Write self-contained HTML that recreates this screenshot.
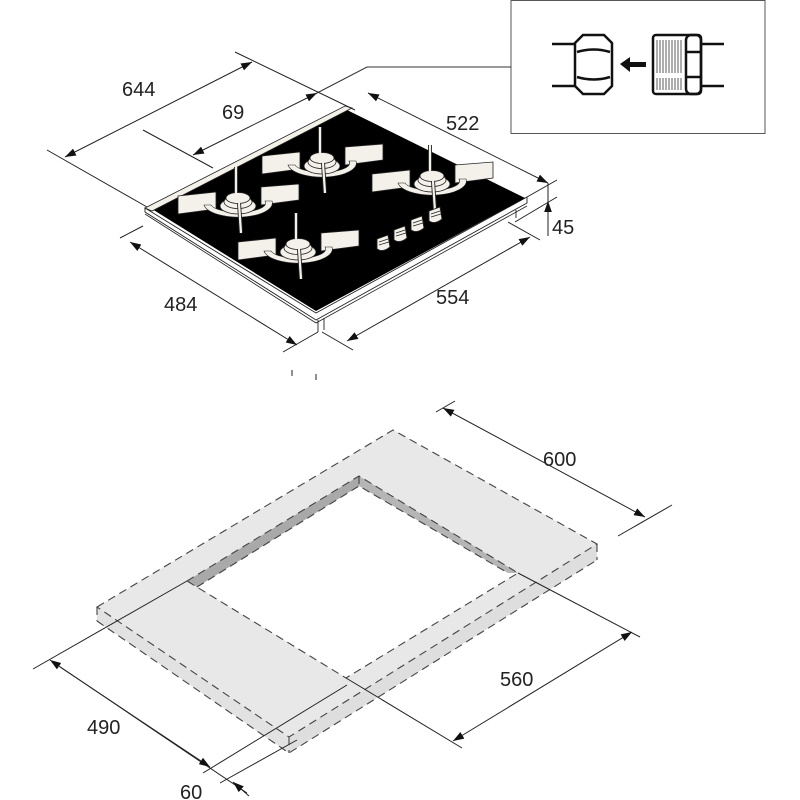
<!DOCTYPE html>
<html><head><meta charset="utf-8"><style>
html,body{margin:0;padding:0;background:#fff;}
svg{display:block;}
text{font-family:"Liberation Sans",sans-serif;font-size:20px;fill:#222;}
</style></head><body>
<svg width="800" height="800" viewBox="0 0 800 800" xmlns="http://www.w3.org/2000/svg">
<defs>
<marker id="a" viewBox="0 0 10 10" refX="10" refY="5" markerWidth="11" markerHeight="11" orient="auto-start-reverse" markerUnits="userSpaceOnUse"><path d="M0,1.5 L10,5 L0,8.5z" fill="#111"/></marker>
<g id="burner">
  <path d="M-60,-7 L-22,-11 L-22,6 L-60,11z" fill="#f4f1ea" stroke="#222" stroke-width="0.8"/>
  <path d="M23,-16 L61,-19 L61,-3 L23,2z" fill="#f4f1ea" stroke="#222" stroke-width="0.8"/>
  <path d="M-34,2 A34,14 0 0 0 34,-2 L27,-2 A27,9 0 0 1 -27,2z" fill="#f4f1ea" stroke="#222" stroke-width="0.6"/>
  <ellipse cx="0" cy="3" rx="18" ry="8" fill="#f4f1ea" stroke="#222" stroke-width="0.8"/>
  <ellipse cx="0" cy="-1" rx="14" ry="6.5" fill="#f4f1ea" stroke="#222" stroke-width="0.8"/>
  <ellipse cx="0" cy="-5" rx="12" ry="5.5" fill="#f4f1ea" stroke="#222" stroke-width="0.8"/>
  <path d="M-2,-36 L-2,-10" stroke="#222" stroke-width="4"/><path d="M-2,-36 L-2,-10" stroke="#f4f1ea" stroke-width="2.2"/>
  <path d="M1,0 L3,30" stroke="#222" stroke-width="4"/><path d="M1,0 L3,30" stroke="#f4f1ea" stroke-width="2.2"/>
</g>
<g id="knob">
  <path d="M-6,-4 L5,-8 L7,4 Q0,10 -6,6z" fill="#f4f1ea" stroke="#222" stroke-width="0.9"/>
  <path d="M-4,-1 L5,-4 M-4,2 L6,-1" stroke="#222" stroke-width="0.7"/>
</g>
</defs>

<!-- inset box -->
<rect x="511" y="0.5" width="254" height="133" fill="#fff" stroke="#555" stroke-width="1"/>
<polyline points="511,67 367,67 317,93" fill="none" stroke="#333" stroke-width="1"/>
<g stroke="#111" stroke-width="2.5" fill="none">
  <line x1="552" y1="44" x2="576" y2="44"/><line x1="552" y1="86" x2="576" y2="86"/>
  <path d="M583,35 H604 L612,43 V86 L604,94 H583 L575,86 V43z"/>
  <path d="M577,52 Q594,47 610,52 M577,77 Q594,82 610,77"/>
  <line x1="700" y1="44" x2="724" y2="44"/><line x1="700" y1="86" x2="724" y2="86"/>
  <rect x="653" y="35" width="48" height="59" rx="3"/>
  <rect x="686" y="35" width="15" height="59" rx="5"/>
  <line x1="687" y1="52" x2="700" y2="52"/><line x1="687" y1="77" x2="700" y2="77"/>
</g>
<g stroke="#333" stroke-width="0.8">
  <path d="M657,40V73M660,40V73M663,40V73M666,40V73M669,40V73M672,40V73M675,40V73M678,40V73M681,40V73M657,78V90M660,78V90M663,78V90M666,78V90M669,78V90M672,78V90M675,78V90M678,78V90M681,78V90"/>
</g>
<path d="M620,64 L630,57 L630,62 L646,62 L646,67 L630,67 L630,72z" fill="#111"/>

<!-- hob -->
<path d="M145,208 L145,212 L316,320 L527,203 L527,197 L316,313z" fill="#fff" stroke="#222" stroke-width="0.9"/>
<path d="M145,214 L316,323 L527,206" fill="none" stroke="#222" stroke-width="0.8"/>
<path d="M318,320 L318,332 M324,318 L324,330 M516,210 L516,218" stroke="#222" stroke-width="0.9"/>
<path d="M152,209 L347,110 L525,198 L316,311z" fill="#000"/>
<path d="M145,208 L345,106 L352,108 L152,211z" fill="#f4f1ea" stroke="#222" stroke-width="0.8"/>
<use href="#burner" x="322" y="163"/>
<use href="#burner" x="238" y="203"/>
<use href="#burner" x="432" y="181"/>
<use href="#burner" x="298" y="249"/>
<use href="#knob" x="383" y="243"/>
<use href="#knob" x="400" y="234"/>
<use href="#knob" x="417" y="224"/>
<use href="#knob" x="435" y="215"/>

<!-- hob dimension lines -->
<g stroke="#222" stroke-width="1" fill="none">
  <line x1="47" y1="150" x2="147" y2="207"/>
  <line x1="235" y1="52" x2="355" y2="110"/>
  <line x1="65" y1="157" x2="252" y2="62" marker-start="url(#a)" marker-end="url(#a)"/>
  <line x1="143" y1="130" x2="213" y2="168"/>
  <line x1="193" y1="155" x2="317" y2="93" marker-start="url(#a)" marker-end="url(#a)"/>
  <line x1="368" y1="93" x2="548" y2="183" marker-start="url(#a)" marker-end="url(#a)"/>
  <line x1="527" y1="197" x2="557" y2="180"/>
  <line x1="515" y1="222" x2="557" y2="197"/>
  <line x1="548" y1="183" x2="548" y2="236"/>
  <line x1="548" y1="228" x2="548" y2="201" marker-end="url(#a)"/>
  <line x1="120" y1="238" x2="143" y2="226"/>
  <line x1="130" y1="242" x2="297" y2="345" marker-start="url(#a)" marker-end="url(#a)"/>
  <line x1="283" y1="352" x2="318" y2="332"/>
  <line x1="322" y1="332" x2="353" y2="350"/>
  <line x1="530" y1="237" x2="347" y2="341" marker-start="url(#a)" marker-end="url(#a)"/>
  <line x1="508" y1="222" x2="540" y2="240"/>
  <line x1="292" y1="370" x2="292" y2="376"/><line x1="316" y1="374" x2="316" y2="380"/>
</g>
<text x="122" y="96">644</text>
<text x="222" y="119">69</text>
<text x="446" y="130">522</text>
<text x="552" y="234">45</text>
<text x="164" y="311">484</text>
<text x="436" y="304">554</text>

<!-- countertop -->
<path d="M97,607 L289,737 L289,753 L97,621z" fill="#e2e2e2"/>
<path d="M289,737 L597,544 L597,560 L289,753z" fill="#dedede"/>
<path fill-rule="evenodd" d="M97,607 L393,430 L597,544 L289,737z M187,581 L359,476 L518,573 L346,678z" fill="#e8e8e8"/>
<path d="M187,581 L359,476 L359,486 L197,587z" fill="#a9a9a9"/>
<path d="M359,476 L518,573 L508,573 L359,486z" fill="#b5b5b5"/>
<g stroke="#444" stroke-width="1.1" fill="none" stroke-dasharray="8 5">
  <path d="M97,607 L393,430 L597,544 L289,737z"/>
  <path d="M97,621 L289,753 L597,560"/>
  <path d="M97,607 V621 M289,737 V753 M597,544 V560"/>
  <path d="M187,581 L359,476 L518,573 L346,678z"/>
  <path d="M197,587 L359,486 L508,573"/>
  <path d="M359,476 V486"/>
</g>
<!-- countertop dimensions -->
<g stroke="#222" stroke-width="1" fill="none">
  <line x1="33" y1="669" x2="187" y2="581"/>
  <line x1="50" y1="660" x2="247" y2="793" marker-start="url(#a)"/>
  <line x1="60" y1="667" x2="210" y2="767" marker-end="url(#a)"/>
  <line x1="203" y1="773" x2="347" y2="685"/>
  <line x1="220" y1="783" x2="297" y2="740"/>
  <line x1="249" y1="796" x2="233" y2="782" marker-end="url(#a)"/>
  <line x1="436" y1="412" x2="455" y2="401"/>
  <line x1="443" y1="408" x2="645" y2="517" marker-start="url(#a)" marker-end="url(#a)"/>
  <line x1="618" y1="536" x2="672" y2="505"/>
  <line x1="518" y1="573" x2="640" y2="637"/>
  <line x1="346" y1="678" x2="462" y2="748"/>
  <line x1="632" y1="632" x2="453" y2="741" marker-start="url(#a)" marker-end="url(#a)"/>
</g>
<text x="543" y="466">600</text>
<text x="500" y="686">560</text>
<text x="87" y="734">490</text>
<text x="180" y="799">60</text>
</svg>
</body></html>
